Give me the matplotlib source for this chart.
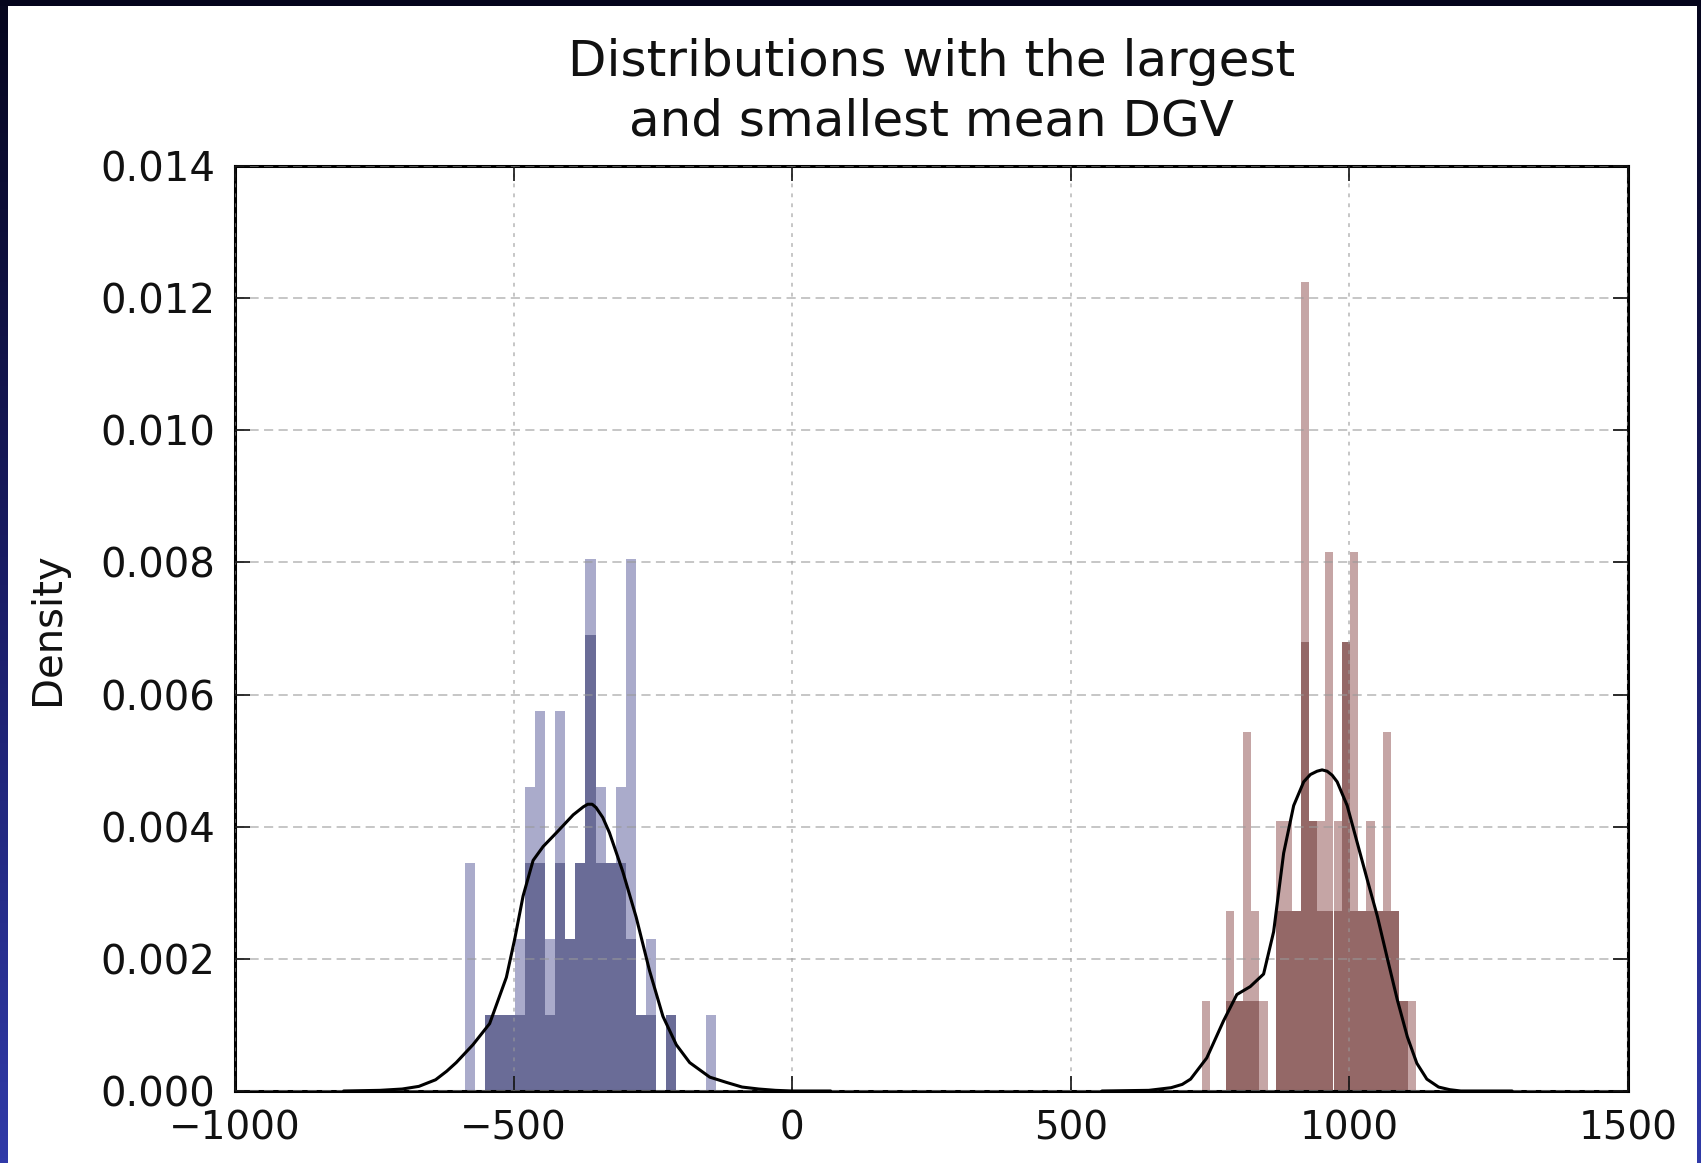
import numpy as np
import matplotlib
matplotlib.use("Agg")
import matplotlib.pyplot as plt
from matplotlib.patches import Rectangle
from matplotlib.colors import LinearSegmentedColormap

# ---------------- data ----------------
# smallest-mean distribution (blue): histogram bin centres, bin width and densities
blue_centers = [-578, -560, -542, -524, -506, -488, -470, -452, -434, -416, -398, -380,
                -362, -344, -326, -308, -290, -272, -254, -236, -218, -200, -182, -164, -146]
blue_width = 18
blue_light = [0.00345, 0, 0.00115, 0.00115, 0.00115, 0.0023, 0.0046, 0.00575, 0.0023,
              0.00575, 0.0023, 0.00345, 0.00805, 0.0046, 0.00345, 0.0046, 0.00805,
              0.00115, 0.0023, 0, 0.00115, 0, 0, 0, 0.00115]
blue_dark = [0, 0, 0.00115, 0.00115, 0.00115, 0.00115, 0.00345, 0.00345, 0.00115,
             0.00345, 0.0023, 0.00345, 0.0069, 0.00345, 0.00345, 0.00345, 0.0023,
             0.00115, 0.00115, 0, 0.00115, 0, 0, 0, 0]

# largest-mean distribution (red)
red_centers = [742, 757, 772, 786, 801, 816, 831, 846, 860, 875, 890, 905, 920, 934, 949,
               964, 979, 994, 1008, 1023, 1038, 1053, 1068, 1082, 1097, 1112]
red_width = 14.8
red_light = [0.00136, 0, 0, 0.00272, 0.00136, 0.00544, 0.00272, 0.00136, 0, 0.00408,
             0.00408, 0.00272, 0.01224, 0.00408, 0.00408, 0.00816, 0.00408, 0.0068,
             0.00816, 0.00272, 0.00408, 0.00272, 0.00544, 0.00272, 0.00136, 0.00136]
red_dark = [0, 0, 0, 0.00136, 0.00136, 0.00136, 0.00136, 0, 0, 0.00272, 0.00272,
            0.00272, 0.0068, 0.00408, 0.00272, 0.00272, 0.00272, 0.0068, 0.00272,
            0.00272, 0.00272, 0.00272, 0.00272, 0.00272, 0.00136, 0]

# kernel density curves
blue_kde_x = [-805, -740, -700, -670, -640, -620, -603, -573, -543, -513, -498, -483,
              -465, -447, -423, -393, -375, -367, -359, -352, -340, -328, -304, -280,
              -256, -232, -208, -184, -148, -118, -90, -60, -30, 0, 69]
blue_kde_y = [0, 0.00001, 0.00003, 0.00007, 0.00017, 0.0003, 0.00043, 0.0007, 0.00102,
              0.00172, 0.0023, 0.00295, 0.00349, 0.0037, 0.00391, 0.00418, 0.00430,
              0.00434, 0.00434, 0.00429, 0.00414, 0.00391, 0.00332, 0.00263, 0.00182,
              0.00113, 0.0007, 0.00043, 0.00021, 0.00013, 0.00006, 0.00003, 0.00001,
              0.0, 0.0]
red_kde_x = [556, 640, 680, 700, 715, 744, 774, 798, 822, 846, 864, 882, 900, 918, 930,
             942, 951, 960, 969, 978, 996, 1014, 1032, 1050, 1068, 1086, 1104, 1121,
             1139, 1160, 1180, 1200, 1292]
red_kde_y = [0, 0.00001, 0.00005, 0.0001, 0.00018, 0.0005, 0.00106, 0.00146, 0.00158,
             0.00177, 0.00241, 0.0036, 0.00432, 0.00468, 0.00479, 0.00484, 0.00486,
             0.00484, 0.00478, 0.00468, 0.00432, 0.00376, 0.0032, 0.00265, 0.00201,
             0.00138, 0.00082, 0.00042, 0.00018, 0.00006, 0.00002, 0.0, 0.0]

x_ticks = [-1000, -500, 0, 500, 1000, 1500]
y_ticks = [0.000, 0.002, 0.004, 0.006, 0.008, 0.010, 0.012, 0.014]
title = "Distributions with the largest\nand smallest mean DGV"
ylabel = "Density"

# ---------------- figure ----------------
W, H = 1701, 1163
fig = plt.figure(figsize=(W / 100, H / 100), dpi=100)
fig.patch.set_facecolor("#04041c")

# slide-like frame: white panel, bluish gradient strips on the sides
bg = fig.add_axes([0, 0, 1, 1], zorder=-10)
bg.set_axis_off()
bg.add_patch(Rectangle((8, 0), 1697 - 8, H - 6, facecolor="white", edgecolor="none"))
grad = np.linspace(0, 1, 256).reshape(-1, 1)
cmap = LinearSegmentedColormap.from_list("edge", ["#303aa8", "#1a1d66", "#06061e"])
bg.imshow(grad, aspect="auto", cmap=cmap, origin="lower", extent=(0, 8, 0, H - 6))
bg.imshow(grad, aspect="auto", cmap=cmap, origin="lower", extent=(1697, W, 0, H - 6))
bg.set_xlim(0, W)
bg.set_ylim(0, H)

ax = fig.add_axes([235 / W, 72 / H, (1628 - 235) / W, (1091 - 166) / H])
ax.set_facecolor("white")

ax.bar(blue_centers, blue_light, width=blue_width, color="#aaabcb", linewidth=0, zorder=1)
ax.bar(blue_centers, blue_dark, width=blue_width, color="#6a6c97", linewidth=0, zorder=1.1)
ax.bar(red_centers, red_light, width=red_width, color="#c5a5a5", linewidth=0, zorder=1)
ax.bar(red_centers, red_dark, width=red_width, color="#946867", linewidth=0, zorder=1.1)

ax.plot(blue_kde_x, blue_kde_y, color="black", lw=2.2, zorder=3,
        solid_joinstyle="round", solid_capstyle="round")
ax.plot(red_kde_x, red_kde_y, color="black", lw=2.2, zorder=3,
        solid_joinstyle="round", solid_capstyle="round")

ax.set_xlim(-1000, 1500)
ax.set_ylim(0, 0.014)
ax.set_xticks(x_ticks)
ax.set_xticklabels(["\u2212" + str(-t) if t < 0 else str(t) for t in x_ticks])
ax.set_yticks(y_ticks)
ax.set_yticklabels([f"{t:.3f}" for t in y_ticks])

ax.set_axisbelow(False)
ax.grid(axis="y", linestyle=(0, (6, 3.5)), color="#999999", alpha=0.7, lw=1.1)
ax.grid(axis="x", linestyle=(0, (2.5, 4)), color="#999999", alpha=0.7, lw=1.1)

ax.tick_params(direction="in", top=True, right=True, length=11, width=1.2,
               labelsize=29, colors="#111111")
ax.tick_params(axis="y", pad=14)
ax.tick_params(axis="x", pad=13, labelsize=28)
for s in ax.spines.values():
    s.set_linewidth(2.2)
    s.set_color("black")

ax.set_title(title, fontsize=36, pad=22, color="#111111", linespacing=1.3)
ax.set_ylabel(ylabel, fontsize=29, color="#111111")
ax.yaxis.set_label_coords(-0.12, 0.5)

fig.savefig("out.png", dpi=100, facecolor=fig.get_facecolor())
